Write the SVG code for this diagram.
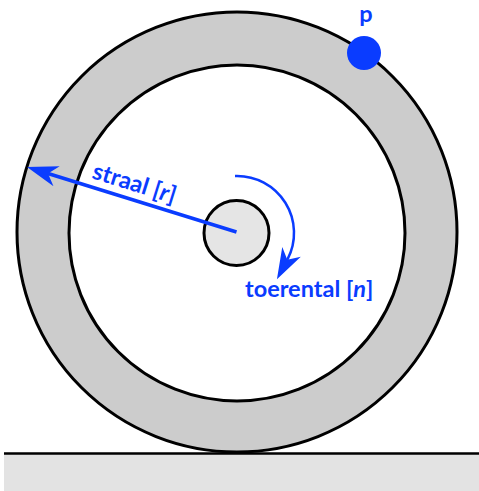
<svg xmlns="http://www.w3.org/2000/svg" width="479" height="491" viewBox="0 0 479 491">
<style>
.lbl{font-family:Lato,"Open Sans","Liberation Sans",sans-serif;font-weight:bold;font-size:23.5px;fill:#0a3cff}
.edge{stroke:#000;stroke-width:3}
.blue{stroke:#0a3cff;fill:none}
</style>
<defs>
<marker id="ah" markerUnits="userSpaceOnUse" markerWidth="40" markerHeight="30" viewBox="-12 -12 40 24" refX="0" refY="0" orient="auto" overflow="visible">
<path d="M22,0 L-9,-10.5 L0,0 L-9,10.5 Z" fill="#0a3cff"/>
</marker>
</defs>
<g id="ground">
<rect x="4" y="454" width="475" height="37" fill="#e3e3e3"/>
<line x1="4" y1="453.5" x2="479" y2="453.5" stroke="#000" stroke-width="2.5"/>
</g>
<g id="wheel">
<circle cx="237" cy="232" r="220" fill="#cccccc" class="edge"/>
<circle cx="237" cy="233" r="168" fill="#ffffff" class="edge"/>
</g>
<g id="hub">
<circle cx="236.5" cy="233" r="32.5" fill="#e5e5e5" class="edge"/>
</g>
<g id="point-p">
<circle cx="364" cy="53" r="17" fill="#0a3cff"/>
<text x="366" y="22" class="lbl" text-anchor="middle">p</text>
</g>
<g id="connectors">
<line x1="236.5" y1="232" x2="48" y2="173.5" class="blue" stroke-width="3.5" marker-end="url(#ah)"/>
<path d="M235,176 A57,57 0 0,1 287.3,259.8" class="blue" stroke-width="2.5" marker-end="url(#ah)"/>
</g>
<g id="labels">
<text class="lbl" transform="translate(91,178) rotate(17.3)">straal [<tspan font-style="italic">r</tspan>]</text>
<text class="lbl" x="245" y="297">toerental [<tspan font-style="italic">n</tspan>]</text>
</g>
</svg>
